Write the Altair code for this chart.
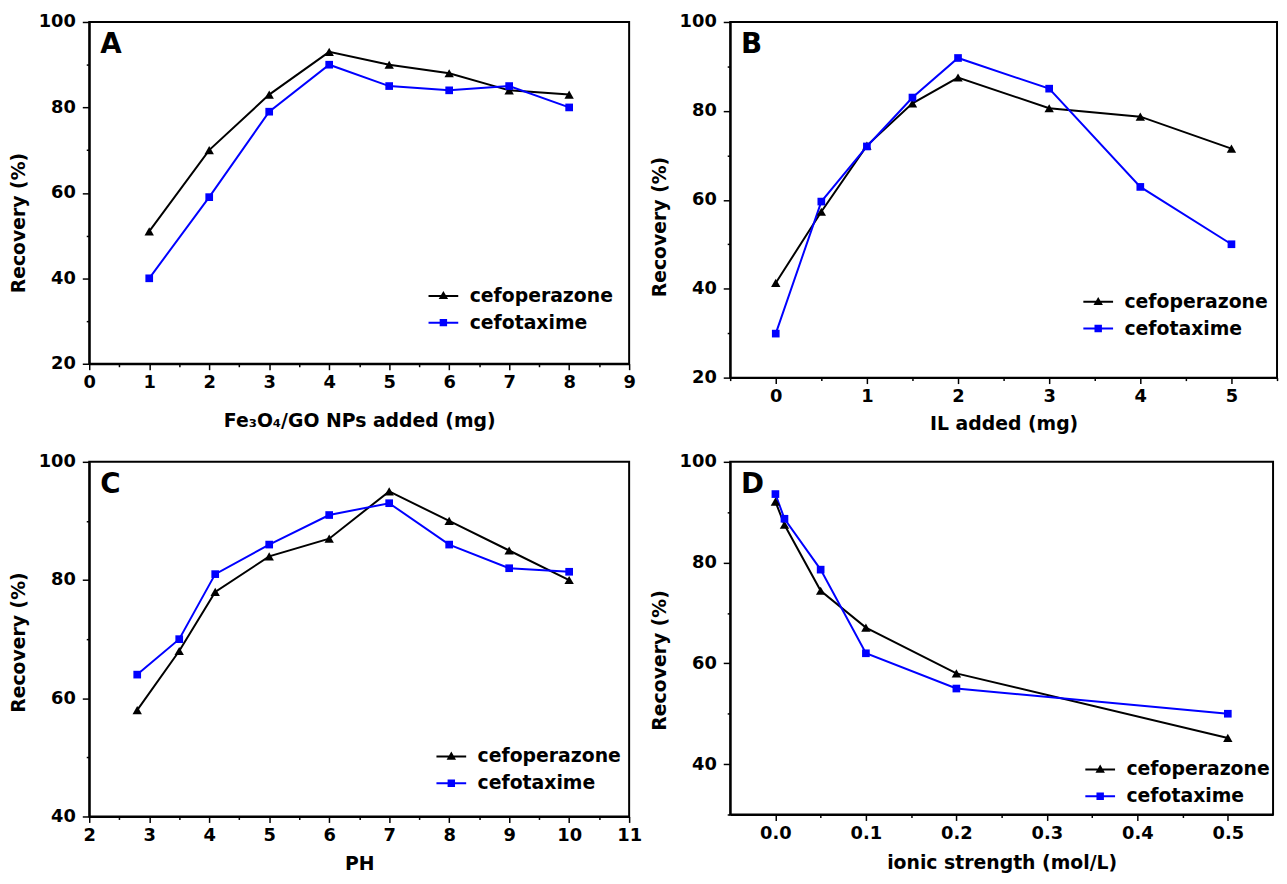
import altair as alt
import pandas as pd

SERIES = ["cefoperazone", "cefotaxime"]
COLORS = ["#000000", "#0000FF"]

# Panel A: Fe3O4/GO NPs added (mg)
a_x = [1, 2, 3, 4, 5, 6, 7, 8]
a_cefoperazone = [51, 70, 83, 93, 90, 88, 84, 83]
a_cefotaxime = [40, 59, 79, 90, 85, 84, 85, 80]
a_xmajor = [0, 1, 2, 3, 4, 5, 6, 7, 8, 9]
a_xminor = [0.5, 1.5, 2.5, 3.5, 4.5, 5.5, 6.5, 7.5, 8.5]
a_ymajor = [20, 40, 60, 80, 100]
a_yminor = [30, 50, 70, 90]

# Panel B: IL added (mg)
b_x = [0, 0.5, 1, 1.5, 2, 3, 4, 5]
b_cefoperazone = [41.3, 57.3, 72.2, 81.7, 87.5, 80.6, 78.7, 71.5]
b_cefotaxime = [29.9, 59.6, 72.0, 83.0, 91.9, 85.0, 62.9, 50.0]
b_xmajor = [0, 1, 2, 3, 4, 5]
b_xminor = [-0.5, 0.5, 1.5, 2.5, 3.5, 4.5, 5.5]
b_ymajor = [20, 40, 60, 80, 100]
b_yminor = [30, 50, 70, 90]

# Panel C: PH
c_x = [2.8, 3.5, 4.1, 5, 6, 7, 8, 9, 10]
c_cefoperazone = [58, 68, 78, 84, 87, 95, 90, 85, 80]
c_cefotaxime = [64, 70, 81, 86, 91, 93, 86, 82, 81.4]
c_xmajor = [2, 3, 4, 5, 6, 7, 8, 9, 10, 11]
c_xminor = [2.5, 3.5, 4.5, 5.5, 6.5, 7.5, 8.5, 9.5, 10.5]
c_ymajor = [40, 60, 80, 100]
c_yminor = [50, 70, 90]

# Panel D: ionic strength (mol/L)
d_x = [0, 0.01, 0.05, 0.1, 0.2, 0.5]
d_cefoperazone = [92.1, 87.5, 74.4, 67.1, 58.0, 45.2]
d_cefotaxime = [93.6, 88.7, 78.6, 62.0, 55.0, 50.0]
d_xmajor = [0.0, 0.1, 0.2, 0.3, 0.4, 0.5]
d_xminor = [0.05, 0.15, 0.25, 0.35, 0.45]
d_ymajor = [40, 60, 80, 100]
d_yminor = [30, 50, 70, 90]

FONT = "DejaVu Sans"
LINE_SEG = "M-3,-0.2H3V0.2H-3Z"
TRI_PATH = LINE_SEG + "M0,-1.0L0.95,0.65H-0.95Z"
SQ_PATH = LINE_SEG + "M-0.75,-0.75H0.75V0.75H-0.75Z"


def panel(x, y1, y2, xdom, xmaj, xmin, ydom, ymaj, ymin, xtitle, xfmt,
          letter, w, h, lx, ly, xtp, ytitle_shift):
    n = len(x)
    df = pd.DataFrame({
        "x": list(x) + list(x),
        "y": list(y1) + list(y2),
        "series": [SERIES[0]] * n + [SERIES[1]] * n,
    })
    xs = alt.Scale(domain=xdom, nice=False, zero=False)
    ys = alt.Scale(domain=ydom, nice=False, zero=False)
    base = alt.Chart(df)
    s0 = base.transform_filter(alt.datum.series == SERIES[0])
    s1 = base.transform_filter(alt.datum.series == SERIES[1])

    line0 = s0.mark_line(strokeWidth=2, color=COLORS[0]).encode(
        x=alt.X("x:Q", scale=xs,
                axis=alt.Axis(values=xmaj, title=xtitle, format=xfmt,
                              tickSize=6, labelPadding=4, titlePadding=xtp,
                              orient="bottom")),
        y=alt.Y("y:Q", scale=ys,
                axis=alt.Axis(values=ymaj, title="Recovery (%)", format="d",
                              tickSize=7, labelPadding=7, titlePadding=10,
                              titleY=h / 2 + ytitle_shift, orient="left")),
    )
    line1 = s1.mark_line(strokeWidth=2, color=COLORS[1]).encode(
        x=alt.X("x:Q", scale=xs, axis=None),
        y=alt.Y("y:Q", scale=ys, axis=None),
    )
    tri = s0.mark_point(
        shape="triangle-up", filled=True, size=90, opacity=1, color=COLORS[0]
    ).encode(
        x=alt.X("x:Q", scale=xs,
                axis=alt.Axis(values=xmin, orient="bottom", labels=False,
                              domain=False, tickSize=3, title=None, grid=False)),
        y=alt.Y("y:Q", scale=ys,
                axis=alt.Axis(values=ymin, orient="left", labels=False,
                              domain=False, tickSize=3, title=None, grid=False)),
    )
    sq = s1.mark_point(
        shape="square", filled=True, size=60, opacity=1, color=COLORS[1]
    ).encode(
        x=alt.X("x:Q", scale=xs, axis=None),
        y=alt.Y("y:Q", scale=ys, axis=None),
    )
    leg_props = dict(
        orient="none", legendX=lx, legendY=ly, title=None, padding=0,
        labelFont=FONT, labelFontSize=19, labelFontWeight="bold",
        labelColor="black", symbolSize=100, labelOffset=17, rowPadding=7,
        symbolOpacity=1, symbolStrokeWidth=0, labelLimit=300,
    )
    leg = base.mark_point(filled=True, opacity=0).encode(
        x=alt.X("x:Q", scale=xs, axis=None),
        y=alt.Y("y:Q", scale=ys, axis=None),
        color=alt.Color("series:N", scale=alt.Scale(domain=SERIES, range=COLORS),
                        legend=alt.Legend(**leg_props)),
        shape=alt.Shape("series:N", scale=alt.Scale(domain=SERIES, range=[TRI_PATH, SQ_PATH]),
                        legend=alt.Legend(**leg_props)),
    )
    txt = alt.Chart(pd.DataFrame({"label": [letter]})).mark_text(
        font=FONT, fontSize=28, fontWeight="bold", align="left",
        baseline="alphabetic", color="black"
    ).encode(text="label:N", x=alt.value(11), y=alt.value(31))

    return alt.layer(line0, line1, tri, sq, leg, txt).resolve_axis(
        x="independent", y="independent"
    ).properties(width=w, height=h)


pA = panel(a_x, a_cefoperazone, a_cefotaxime, [0, 9], a_xmajor, a_xminor,
           [20, 100], a_ymajor, a_yminor, "Fe\u2083O\u2084/GO NPs added (mg)", "d",
           "A", 545, 345, 348, 267, 20, 30)
pB = panel(b_x, b_cefoperazone, b_cefotaxime, [-0.5, 5.5], b_xmajor, b_xminor,
           [20, 100], b_ymajor, b_yminor, "IL added (mg)", "d",
           "B", 552, 359, 362, 273, 9, 27)
pC = panel(c_x, c_cefoperazone, c_cefotaxime, [2, 11], c_xmajor, c_xminor,
           [40, 100], c_ymajor, c_yminor, "PH", "d",
           "C", 545, 358, 356, 288, 11, 3)
pD = panel(d_x, d_cefoperazone, d_cefotaxime, [-0.05, 0.55], d_xmajor, d_xminor,
           [30, 100], d_ymajor, d_yminor, "ionic strength (mol/L)", ".1f",
           "D", 548, 356, 364, 301, 12, 22)

top = alt.hconcat(pA, pB, spacing=12).resolve_scale(
    color="independent", shape="independent").resolve_legend(
    color="independent", shape="independent")
bottom = alt.hconcat(pC, pD, spacing=6).resolve_scale(
    color="independent", shape="independent").resolve_legend(
    color="independent", shape="independent")

chart = alt.vconcat(top, bottom, spacing=18).resolve_scale(
    color="independent", shape="independent").resolve_legend(
    color="independent", shape="independent"
).properties(padding=0, background="white").configure_view(
    stroke="black", strokeWidth=2
).configure_axis(
    labelFont=FONT, labelFontSize=18, labelFontWeight="bold", labelColor="black",
    titleFont=FONT, titleFontSize=19, titleFontWeight="bold", titleColor="black",
    domainColor="black", domainWidth=2, tickColor="black", tickWidth=1.5,
    grid=False, labelOverlap=False, labelFlush=False,
)

chart.save("out.html", embed_options={"renderer": "svg", "actions": False})
